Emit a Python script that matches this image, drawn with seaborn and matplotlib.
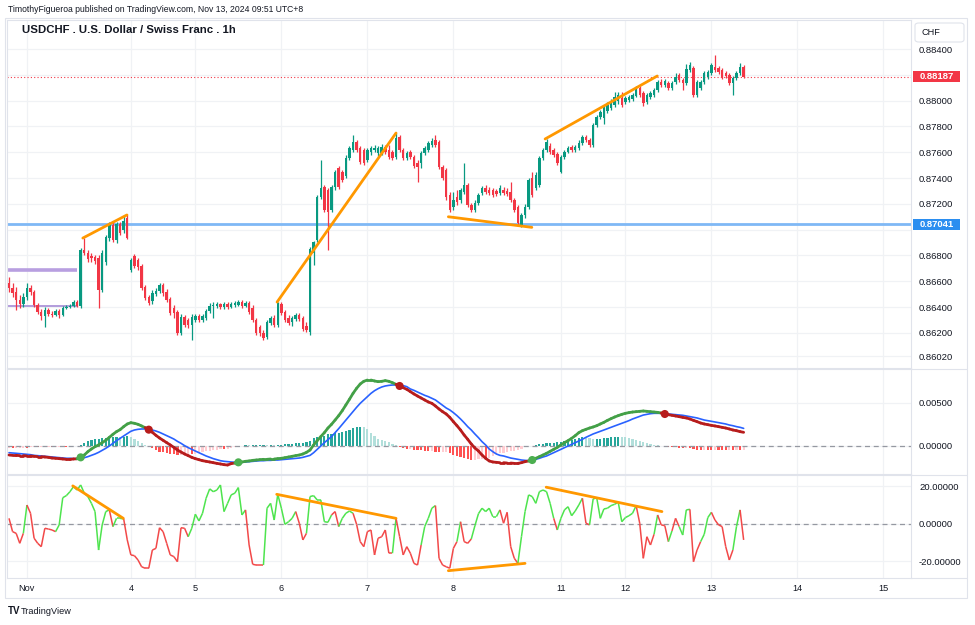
import numpy as np
import pandas as pd
import matplotlib
matplotlib.use("Agg")
import matplotlib.pyplot as plt
import matplotlib.transforms as mtransforms
from matplotlib.collections import LineCollection
from matplotlib.patches import Rectangle, FancyBboxPatch
from matplotlib.lines import Line2D
import seaborn as sns

# ---------------- data (hourly bars, Oct 31 19:00 -> Nov 13 09:00, UTC+8) ----------------
opens = [0.86587,0.86548,0.86517,0.86455,0.86424,0.86478,0.86548,0.86517,0.86416,0.86362,
 0.86331,0.86377,0.86346,0.86339,0.86370,0.86339,0.86393,0.86401,0.86408,0.86439,
 0.86408,0.86842,0.86819,0.86796,0.86788,0.86780,0.86532,0.86749,0.86935,0.87036,
 0.86920,0.87044,0.86997,0.87090,0.86687,0.86796,0.86765,0.86718,0.86556,0.86478,
 0.86447,0.86501,0.86525,0.86571,0.86517,0.86463,0.86393,0.86362,0.86199,0.86323,
 0.86300,0.86261,0.86300,0.86331,0.86300,0.86315,0.86370,0.86408,0.86408,0.86424,
 0.86401,0.86424,0.86401,0.86416,0.86416,0.86439,0.86408,0.86432,0.86393,0.86300,
 0.86246,0.86199,0.86168,0.86277,0.86315,0.86261,0.86424,0.86362,0.86315,0.86284,
 0.86308,0.86339,0.86315,0.86253,0.86207,0.86819,0.86920,0.87253,0.87331,0.87307,
 0.87152,0.87331,0.87478,0.87447,0.87416,0.87555,0.87617,0.87679,0.87633,0.87617,
 0.87540,0.87602,0.87617,0.87594,0.87594,0.87641,0.87617,0.87602,0.87563,0.87718,
 0.87617,0.87555,0.87602,0.87563,0.87517,0.87517,0.87594,0.87617,0.87656,0.87695,
 0.87679,0.87486,0.87462,0.87269,0.87176,0.87253,0.87230,0.87292,0.87346,0.87191,
 0.87152,0.87207,0.87284,0.87323,0.87307,0.87307,0.87300,0.87284,0.87307,0.87300,
 0.87292,0.87230,0.87176,0.87036,0.87114,0.87176,0.87400,0.87323,0.87346,0.87555,
 0.87617,0.87648,0.87617,0.87586,0.87447,0.87563,0.87602,0.87641,0.87617,0.87633,
 0.87672,0.87718,0.87695,0.87656,0.87811,0.87873,0.87865,0.87920,0.87943,0.87966,
 0.87997,0.88020,0.87989,0.88005,0.88013,0.88036,0.88098,0.88059,0.87989,0.88028,
 0.88044,0.88082,0.88144,0.88121,0.88137,0.88098,0.88144,0.88199,0.88160,0.88137,
 0.88237,0.88253,0.88044,0.88098,0.88144,0.88183,0.88214,0.88261,0.88253,0.88237,
 0.88214,0.88199,0.88137,0.88175,0.88214,0.88261]

highs = [0.86633,0.86587,0.86556,0.86494,0.86509,0.86587,0.86571,0.86532,0.86432,0.86385,
 0.86401,0.86393,0.86370,0.86385,0.86385,0.86408,0.86416,0.86424,0.86455,0.86455,
 0.86858,0.86935,0.86842,0.86819,0.86804,0.86804,0.86842,0.86959,0.87059,0.87059,
 0.87059,0.87059,0.87114,0.87121,0.86780,0.86811,0.86780,0.86734,0.86571,0.86494,
 0.86532,0.86548,0.86587,0.86587,0.86540,0.86478,0.86416,0.86377,0.86346,0.86339,
 0.86315,0.86346,0.86346,0.86346,0.86346,0.86385,0.86432,0.86439,0.86439,0.86432,
 0.86439,0.86439,0.86439,0.86447,0.86455,0.86455,0.86447,0.86447,0.86416,0.86315,
 0.86261,0.86222,0.86300,0.86331,0.86339,0.86439,0.86439,0.86377,0.86339,0.86331,
 0.86354,0.86354,0.86331,0.86284,0.86866,0.86912,0.87269,0.87540,0.87346,0.87323,
 0.87346,0.87462,0.87493,0.87462,0.87579,0.87648,0.87734,0.87695,0.87648,0.87633,
 0.87633,0.87648,0.87656,0.87648,0.87664,0.87656,0.87656,0.87617,0.87749,0.87734,
 0.87633,0.87610,0.87617,0.87579,0.87540,0.87610,0.87648,0.87687,0.87710,0.87734,
 0.87695,0.87501,0.87478,0.87292,0.87292,0.87307,0.87323,0.87517,0.87362,0.87207,
 0.87230,0.87284,0.87338,0.87346,0.87331,0.87323,0.87315,0.87346,0.87331,0.87323,
 0.87369,0.87245,0.87191,0.87129,0.87199,0.87400,0.87447,0.87447,0.87571,0.87633,
 0.87703,0.87672,0.87633,0.87602,0.87579,0.87617,0.87648,0.87656,0.87656,0.87695,
 0.87734,0.87734,0.87710,0.87827,0.87889,0.87927,0.87966,0.87989,0.88013,0.88067,
 0.88067,0.88067,0.88036,0.88044,0.88059,0.88113,0.88113,0.88075,0.88059,0.88075,
 0.88098,0.88160,0.88168,0.88168,0.88152,0.88152,0.88214,0.88214,0.88175,0.88284,
 0.88299,0.88268,0.88160,0.88160,0.88230,0.88237,0.88292,0.88354,0.88268,0.88253,
 0.88230,0.88214,0.88191,0.88230,0.88292,0.88276]

lows = [0.86517,0.86478,0.86377,0.86393,0.86401,0.86455,0.86494,0.86401,0.86346,0.86300,
 0.86246,0.86331,0.86323,0.86331,0.86315,0.86331,0.86385,0.86393,0.86401,0.86401,
 0.86393,0.86804,0.86749,0.86749,0.86734,0.86393,0.86517,0.86726,0.86912,0.86904,
 0.86897,0.86959,0.86974,0.86928,0.86672,0.86703,0.86687,0.86532,0.86455,0.86416,
 0.86424,0.86486,0.86509,0.86486,0.86439,0.86339,0.86315,0.86184,0.86184,0.86246,
 0.86238,0.86145,0.86284,0.86284,0.86284,0.86300,0.86354,0.86315,0.86393,0.86385,
 0.86385,0.86385,0.86393,0.86401,0.86408,0.86393,0.86401,0.86346,0.86284,0.86184,
 0.86176,0.86145,0.86153,0.86261,0.86246,0.86246,0.86339,0.86284,0.86261,0.86253,
 0.86292,0.86292,0.86215,0.86207,0.86184,0.86726,0.86904,0.87238,0.87137,0.86842,
 0.87137,0.87307,0.87315,0.87369,0.87400,0.87540,0.87602,0.87602,0.87509,0.87501,
 0.87524,0.87579,0.87602,0.87571,0.87579,0.87586,0.87548,0.87540,0.87548,0.87602,
 0.87540,0.87540,0.87548,0.87478,0.87369,0.87478,0.87579,0.87602,0.87641,0.87641,
 0.87470,0.87385,0.87230,0.87137,0.87152,0.87191,0.87207,0.87276,0.87176,0.87137,
 0.87137,0.87191,0.87269,0.87276,0.87269,0.87253,0.87261,0.87269,0.87269,0.87261,
 0.87214,0.87137,0.87028,0.87021,0.87090,0.87160,0.87253,0.87307,0.87331,0.87540,
 0.87602,0.87586,0.87563,0.87501,0.87439,0.87548,0.87594,0.87602,0.87602,0.87617,
 0.87656,0.87679,0.87641,0.87641,0.87796,0.87858,0.87819,0.87904,0.87927,0.87951,
 0.87974,0.87951,0.87974,0.87989,0.87997,0.88028,0.88028,0.87958,0.87974,0.88013,
 0.88028,0.88067,0.88106,0.88106,0.88082,0.88082,0.88129,0.88144,0.88082,0.88121,
 0.88222,0.88028,0.88028,0.88082,0.88129,0.88168,0.88199,0.88222,0.88206,0.88168,
 0.88175,0.88121,0.88044,0.88160,0.88199,0.88175]

closes = [0.86548,0.86509,0.86455,0.86424,0.86478,0.86548,0.86517,0.86416,0.86362,0.86331,
 0.86377,0.86346,0.86339,0.86370,0.86339,0.86393,0.86401,0.86408,0.86439,0.86408,
 0.86842,0.86819,0.86773,0.86780,0.86757,0.86532,0.86819,0.86943,0.87036,0.86920,
 0.87044,0.86974,0.87067,0.86935,0.86765,0.86718,0.86711,0.86548,0.86470,0.86432,
 0.86509,0.86525,0.86571,0.86509,0.86455,0.86354,0.86354,0.86199,0.86323,0.86261,
 0.86261,0.86323,0.86331,0.86300,0.86331,0.86370,0.86408,0.86416,0.86424,0.86401,
 0.86424,0.86401,0.86424,0.86432,0.86439,0.86408,0.86432,0.86362,0.86300,0.86199,
 0.86199,0.86160,0.86284,0.86315,0.86261,0.86432,0.86354,0.86300,0.86277,0.86315,
 0.86339,0.86308,0.86230,0.86222,0.86850,0.86904,0.87253,0.87323,0.87152,0.87137,
 0.87331,0.87447,0.87331,0.87385,0.87555,0.87633,0.87679,0.87617,0.87524,0.87517,
 0.87617,0.87633,0.87633,0.87633,0.87641,0.87602,0.87563,0.87555,0.87710,0.87617,
 0.87555,0.87594,0.87563,0.87493,0.87486,0.87594,0.87633,0.87672,0.87687,0.87656,
 0.87486,0.87400,0.87253,0.87152,0.87230,0.87214,0.87307,0.87346,0.87191,0.87152,
 0.87207,0.87269,0.87323,0.87292,0.87284,0.87269,0.87276,0.87323,0.87284,0.87276,
 0.87230,0.87152,0.87052,0.87114,0.87176,0.87385,0.87269,0.87424,0.87555,0.87617,
 0.87679,0.87602,0.87579,0.87517,0.87563,0.87602,0.87633,0.87617,0.87641,0.87672,
 0.87718,0.87695,0.87656,0.87811,0.87873,0.87912,0.87951,0.87966,0.87989,0.88028,
 0.88044,0.87966,0.88020,0.88028,0.88044,0.88098,0.88044,0.87982,0.88044,0.88059,
 0.88082,0.88144,0.88121,0.88152,0.88098,0.88137,0.88183,0.88160,0.88137,0.88245,
 0.88276,0.88044,0.88144,0.88144,0.88214,0.88222,0.88276,0.88237,0.88222,0.88183,
 0.88191,0.88137,0.88175,0.88214,0.88261,0.88187]

# MACD pane
macd = [-0.00105,-0.00109,-0.00109,-0.00112,-0.00112,-0.00116,-0.00116,-0.00120,-0.00124,-0.00124,
 -0.00128,-0.00132,-0.00140,-0.00143,-0.00147,-0.00151,-0.00155,-0.00155,-0.00151,-0.00149,
 -0.00132,-0.00105,-0.00066,-0.00035,-0.00008,0.00012,0.00039,0.00066,0.00101,0.00136,
 0.00167,0.00190,0.00225,0.00256,0.00271,0.00264,0.00252,0.00233,0.00213,0.00190,
 0.00159,0.00124,0.00093,0.00066,0.00039,0.00012,-0.00016,-0.00047,-0.00070,-0.00093,
 -0.00112,-0.00132,-0.00147,-0.00159,-0.00171,-0.00178,-0.00186,-0.00194,-0.00202,-0.00209,
 -0.00217,-0.00221,-0.00205,-0.00198,-0.00190,-0.00186,-0.00178,-0.00174,-0.00167,-0.00163,
 -0.00159,-0.00155,-0.00155,-0.00151,-0.00151,-0.00147,-0.00143,-0.00136,-0.00128,-0.00120,
 -0.00112,-0.00105,-0.00093,-0.00074,-0.00047,0.00012,0.00062,0.00109,0.00155,0.00209,
 0.00252,0.00302,0.00353,0.00411,0.00477,0.00543,0.00612,0.00671,0.00721,0.00752,
 0.00767,0.00767,0.00756,0.00748,0.00752,0.00760,0.00752,0.00736,0.00717,0.00698,
 0.00678,0.00659,0.00632,0.00605,0.00581,0.00558,0.00535,0.00512,0.00496,0.00465,
 0.00430,0.00399,0.00372,0.00333,0.00283,0.00236,0.00186,0.00128,0.00078,0.00023,
 -0.00023,-0.00058,-0.00105,-0.00143,-0.00174,-0.00186,-0.00190,-0.00194,-0.00194,-0.00198,
 -0.00198,-0.00202,-0.00202,-0.00194,-0.00182,-0.00174,-0.00163,-0.00143,-0.00124,-0.00105,
 -0.00085,-0.00062,-0.00039,-0.00016,0.00012,0.00039,0.00062,0.00089,0.00120,0.00155,
 0.00178,0.00194,0.00209,0.00221,0.00236,0.00256,0.00275,0.00298,0.00318,0.00337,
 0.00353,0.00368,0.00380,0.00388,0.00395,0.00399,0.00403,0.00407,0.00403,0.00399,
 0.00395,0.00391,0.00384,0.00372,0.00364,0.00357,0.00349,0.00341,0.00333,0.00326,
 0.00314,0.00298,0.00283,0.00267,0.00256,0.00248,0.00240,0.00233,0.00225,0.00217,
 0.00209,0.00198,0.00186,0.00178,0.00167,0.00159]

signal = [-0.00078,-0.00081,-0.00085,-0.00089,-0.00093,-0.00097,-0.00101,-0.00109,-0.00112,-0.00116,
 -0.00120,-0.00124,-0.00128,-0.00132,-0.00136,-0.00140,-0.00143,-0.00143,-0.00147,-0.00147,
 -0.00143,-0.00136,-0.00124,-0.00109,-0.00093,-0.00074,-0.00050,-0.00027,0.00000,0.00031,
 0.00062,0.00089,0.00116,0.00143,0.00171,0.00186,0.00194,0.00198,0.00198,0.00194,
 0.00186,0.00174,0.00159,0.00140,0.00120,0.00101,0.00081,0.00054,0.00031,0.00004,
 -0.00019,-0.00039,-0.00058,-0.00078,-0.00097,-0.00116,-0.00132,-0.00147,-0.00159,-0.00171,
 -0.00178,-0.00182,-0.00186,-0.00190,-0.00190,-0.00190,-0.00186,-0.00182,-0.00178,-0.00174,
 -0.00171,-0.00171,-0.00167,-0.00167,-0.00163,-0.00163,-0.00159,-0.00155,-0.00151,-0.00147,
 -0.00143,-0.00140,-0.00132,-0.00120,-0.00109,-0.00078,-0.00039,0.00000,0.00039,0.00074,
 0.00109,0.00155,0.00202,0.00252,0.00302,0.00353,0.00403,0.00450,0.00496,0.00535,
 0.00574,0.00612,0.00643,0.00667,0.00686,0.00698,0.00705,0.00709,0.00709,0.00709,
 0.00702,0.00690,0.00663,0.00647,0.00628,0.00609,0.00589,0.00574,0.00554,0.00535,
 0.00504,0.00473,0.00442,0.00419,0.00388,0.00353,0.00314,0.00271,0.00225,0.00186,
 0.00140,0.00097,0.00050,0.00012,-0.00035,-0.00066,-0.00093,-0.00109,-0.00116,-0.00128,
 -0.00140,-0.00147,-0.00155,-0.00163,-0.00167,-0.00171,-0.00167,-0.00155,-0.00143,-0.00128,
 -0.00116,-0.00097,-0.00078,-0.00058,-0.00039,-0.00019,0.00000,0.00019,0.00039,0.00058,
 0.00078,0.00101,0.00120,0.00140,0.00155,0.00171,0.00186,0.00202,0.00217,0.00233,
 0.00248,0.00264,0.00279,0.00295,0.00314,0.00329,0.00345,0.00360,0.00368,0.00376,
 0.00380,0.00380,0.00380,0.00376,0.00372,0.00368,0.00364,0.00360,0.00357,0.00349,
 0.00341,0.00333,0.00326,0.00314,0.00302,0.00295,0.00287,0.00279,0.00271,0.00264,
 0.00256,0.00244,0.00236,0.00225,0.00217,0.00205]

# Oscillator pane
osc = [3.0,-4.1,-5.0,-10.3,-5.0,10.1,5.7,-7.6,-10.3,-12.1,
 -2.3,-2.7,-3.2,-4.1,-0.5,14.0,15.1,17.2,19.9,18.1,
 20.8,16.4,14.6,11.0,6.6,-13.9,-0.5,6.6,7.5,-1.4,
 3.0,3.0,2.7,-8.5,-16.5,-16.9,-19.2,-22.8,-23.6,-23.6,
 -13.9,-13.0,-2.0,-4.1,-10.3,-16.5,-17.4,-20.1,-2.0,-2.3,
 -6.8,-2.3,5.2,1.6,5.7,13.7,18.7,17.2,18.1,20.8,
 6.6,11.0,15.5,16.4,19.4,4.8,7.5,-11.2,-21.5,-21.9,
 -21.9,-21.9,8.4,11.0,2.1,15.8,8.4,-0.2,1.2,3.0,
 6.6,0.4,-8.5,-5.0,14.6,15.1,12.8,12.8,1.2,0.9,
 4.8,6.6,-1.4,3.0,5.7,6.9,5.7,-0.2,-9.4,-12.1,
 -4.1,-3.2,-16.5,-7.6,-6.8,-3.2,-15.6,-15.6,3.0,-6.8,
 -16.5,-12.1,-15.6,-21.0,-21.9,-11.2,-1.4,3.0,8.4,9.8,
 -18.3,-21.9,-22.8,-23.6,-13.0,-9.4,1.2,-9.4,-10.3,-8.0,
 -1.0,5.5,8.4,6.6,8.4,3.9,3.9,7.5,0.4,6.2,
 -12.1,-18.3,-21.0,-6.8,6.6,15.5,14.6,11.0,17.2,18.1,
 17.2,11.0,3.0,-3.2,3.0,7.5,9.2,4.4,6.9,10.1,
 13.7,0.4,-0.5,13.3,14.0,3.0,8.0,8.4,9.8,10.5,
 11.6,1.2,3.4,4.4,5.7,9.8,0.4,-18.3,-6.8,-11.2,
 -5.5,4.8,-0.5,-0.9,-9.4,-3.7,3.0,-1.4,-5.9,7.5,
 7.8,-20.1,-13.9,-9.4,-5.5,3.4,6.2,2.1,-0.5,-1.4,
 -12.1,-19.2,-13.9,-1.4,7.5,-8.5]

osc_state = ("1000010000" "0000111111" "1111111110" "1110000000" "0000000000"
             "0111111111" "1111111000" "0011111111" "1000111111" "1001111000"
             "0000000010" "0000001111" "0000001000" "1111111100" "0001111111"
             "1110111111" "1001111111" "1111110000" "0100010011" "1000111000"
             "000110")

# day starts (bar index) and labels
day_bars = [5, 34, 52, 76, 100, 124, 154, 172, 196, 220, 244]
day_labels = ["Nov", "4", "5", "6", "7", "8", "11", "12", "13", "14", "15"]

# drawings
level_line = 0.87041
purple_levels = [0.86687, 0.86408]
purple_span = [-0.2, 19.0]
price_trends = [((20.6, 0.86935), (32.9, 0.87114)),
                ((74.8, 0.86439), (108.0, 0.87749)),
                ((122.6, 0.87100), (145.9, 0.87018)),
                ((149.6, 0.87703), (180.9, 0.88191))]
osc_trends = [((17.8, 20.3), (31.9, 3.0)),
              ((74.7, 15.8), (108.0, 3.0)),
              ((122.6, -24.9), (144.0, -21.0)),
              ((149.9, 19.6), (182.2, 6.6))]
price_ticks = [0.8602, 0.862, 0.864, 0.866, 0.868, 0.870, 0.872, 0.874, 0.876, 0.878, 0.880, 0.882, 0.884]
hidden_ticks = [0.870, 0.882]   # labels covered by the price boxes

# ---------------- style ----------------
sns.set_theme(style="white")
plt.rcParams['font.family'] = ['Liberation Sans', 'DejaVu Sans']
TXT = '#131722'
GRID = '#f0f2f5'
BORDER = '#e0e3eb'
UP, DN = '#089981', '#f23645'

W, H = 975, 625
fig = plt.figure(figsize=(W / 100, H / 100), dpi=100)
fig.patch.set_facecolor('white')

def rect(x0, y0, x1, y1):
    return [x0 / W, 1 - y1 / H, (x1 - x0) / W, (y1 - y0) / H]

ax1 = fig.add_axes(rect(7, 20, 911, 368))
ax2 = fig.add_axes(rect(7, 369, 911, 474), sharex=ax1)
ax3 = fig.add_axes(rect(7, 475, 911, 578), sharex=ax1)

bars = np.arange(len(closes))
o = np.array(opens); c = np.array(closes); h = np.array(highs); l = np.array(lows)

for ax in (ax1, ax2, ax3):
    ax.set_facecolor('white')
    for s in ax.spines.values():
        s.set_color(BORDER)
        s.set_linewidth(0.8)
    ax.yaxis.tick_right()
    ax.tick_params(axis='y', length=0, pad=5.8, labelsize=6.8, labelcolor=TXT)
    ax.tick_params(axis='x', length=0)
    ax.set_xticks(day_bars)
    ax.grid(True, axis='both', color=GRID, lw=0.9)
    ax.set_axisbelow(True)

ax1.set_xlim(-0.56, 251.7)

# ---- main candles ----
cols = np.where(c >= o, UP, DN)
ax1.vlines(bars, l, h, colors=cols, lw=0.9, zorder=3)
ax1.bar(bars, np.maximum(np.abs(c - o), 0.00002), bottom=np.minimum(o, c),
        width=0.68, color=cols, lw=0, zorder=4)
ax1.set_ylim(0.85928, 0.88625)
ax1.set_yticks(price_ticks)
ax1.set_yticklabels(["" if any(abs(v - hv) < 1e-9 for hv in hidden_ticks) else f"{v:.5f}"
                     for v in price_ticks])
ax1.tick_params(labelbottom=False)

ax1.axhline(level_line, color='#7fb8f5', lw=2.0, zorder=2)
ax1.axhline(closes[-1], color=DN, lw=0.8, ls=(0, (1, 2)), zorder=2)
ax1.hlines(purple_levels[0], *purple_span, color='#b89fe0', lw=2.6, zorder=2)
ax1.hlines(purple_levels[1], *purple_span, color='#a58bd6', lw=1.2, zorder=2)
for (x0, y0), (x1, y1) in price_trends:
    ax1.plot([x0, x1], [y0, y1], color='#ff9800', lw=2.0, solid_capstyle='round', zorder=5)

# price label boxes on the scale
bt = mtransforms.blended_transform_factory(ax1.transAxes, ax1.transData)
for val, fc in ((closes[-1], '#f23645'), (level_line, '#2b8ef0')):
    ax1.add_patch(Rectangle((1.0025, val - 0.00043), 0.052, 0.00086, transform=bt,
                            fc=fc, ec='none', clip_on=False, zorder=10))
    ax1.text(1.0093, val, f"{val:.5f}", transform=bt, ha='left', va='center',
             color='white', fontsize=6.8, fontweight='bold', clip_on=False, zorder=11)

# ---- MACD pane ----
m = np.array(macd); sg = np.array(signal)
hist = m - sg
hcols = []
for i, v in enumerate(hist):
    prev = hist[i - 1] if i > 0 else v
    if v >= 0:
        hcols.append('#26a69a' if v >= prev else '#b2dfdb')
    else:
        hcols.append('#ff5252' if v < prev else '#ffcdd2')
ax2.bar(bars, hist, width=0.6, color=hcols, lw=0, zorder=2)
ax2.axhline(0, color='#9598a1', lw=0.9, ls=(0, (4, 3)), zorder=2.5)

state = m >= sg
pts = np.column_stack([bars, m])
segs = np.stack([pts[:-1], pts[1:]], axis=1)
lc = LineCollection(segs, colors=['#43a047' if s else '#b71c1c' for s in state[1:]],
                    linewidths=2.0, capstyle='round', joinstyle='round', zorder=4)
ax2.add_collection(lc)
sns.lineplot(x=bars, y=sg, ax=ax2, color='#2962ff', lw=1.2, zorder=3)
cross = [i for i in range(1, len(m)) if state[i] != state[i - 1]]
cross_df = pd.DataFrame({'x': [bars[i] for i in cross], 'y': [m[i] for i in cross],
                         'kind': ['up' if state[i] else 'down' for i in cross]})
sns.scatterplot(data=cross_df, x='x', y='y', hue='kind',
                palette={'up': '#4caf50', 'down': '#b71c1c'}, s=34, edgecolor='none',
                ax=ax2, zorder=6, legend=False)
ax2.set_ylim(-0.003256, 0.008953)
ax2.set_yticks([0.0, 0.005])
ax2.set_yticklabels(["0.00000", "0.00500"])
ax2.tick_params(labelbottom=False)
ax2.set_xlabel(''); ax2.set_ylabel('')

# ---- oscillator pane ----
flags = [ch == '1' for ch in osc_state]
opts = np.column_stack([bars, osc])
osegs = np.stack([opts[:-1], opts[1:]], axis=1)
olc = LineCollection(osegs, colors=['#4ee44e' if f else '#f24949' for f in flags[1:]],
                     linewidths=1.1, zorder=4)
ax3.add_collection(olc)
ax3.axhline(0, color='#9598a1', lw=0.9, ls=(0, (4, 3)), zorder=2.5)
for (x0, y0), (x1, y1) in osc_trends:
    ax3.plot([x0, x1], [y0, y1], color='#ff9800', lw=2.0, solid_capstyle='round', zorder=5)
ax3.set_ylim(-28.8, 26.1)
ax3.set_yticks([-20, 0, 20])
ax3.set_yticklabels(["-20.00000", "0.00000", "20.00000"])
ax3.set_xticklabels(day_labels)
ax3.tick_params(axis='x', labelsize=6.6, labelcolor=TXT, pad=4)

# ---- frame, scale separators, texts ----
def fx(px): return px / W
def fy(py): return 1 - py / H
fig.add_artist(Rectangle((fx(5), fy(598)), fx(967) - fx(5), fy(18) - fy(598),
                         transform=fig.transFigure, fill=False, ec=BORDER, lw=0.8))
for yy in (368.5, 474.5, 578):
    fig.add_artist(Line2D([fx(911), fx(967)], [fy(yy), fy(yy)], color=BORDER, lw=0.8))
fig.add_artist(FancyBboxPatch((fx(915), fy(42)), fx(964) - fx(915), fy(23) - fy(42),
                              boxstyle='round,pad=0,rounding_size=0.004',
                              transform=fig.transFigure, fc='white', ec=BORDER, lw=0.8))
fig.text(fx(921), fy(32.5), "CHF", fontsize=6.6, color=TXT, va='center', ha='left')

fig.text(fx(8), fy(9), "TimothyFigueroa published on TradingView.com, Nov 13, 2024 09:51 UTC+8",
         fontsize=6.2, color=TXT, va='center', ha='left')
fig.text(fx(22), fy(30), "USDCHF . U.S. Dollar / Swiss Franc . 1h",
         fontsize=8.2, color=TXT, fontweight='bold', va='center', ha='left')
fig.text(fx(8), fy(611), "TV", fontsize=7, color=TXT, fontweight='heavy', va='center', ha='left')
fig.text(fx(21), fy(611), "TradingView", fontsize=6.6, color=TXT, va='center', ha='left')

fig.savefig("out.png", dpi=100, facecolor='white')
